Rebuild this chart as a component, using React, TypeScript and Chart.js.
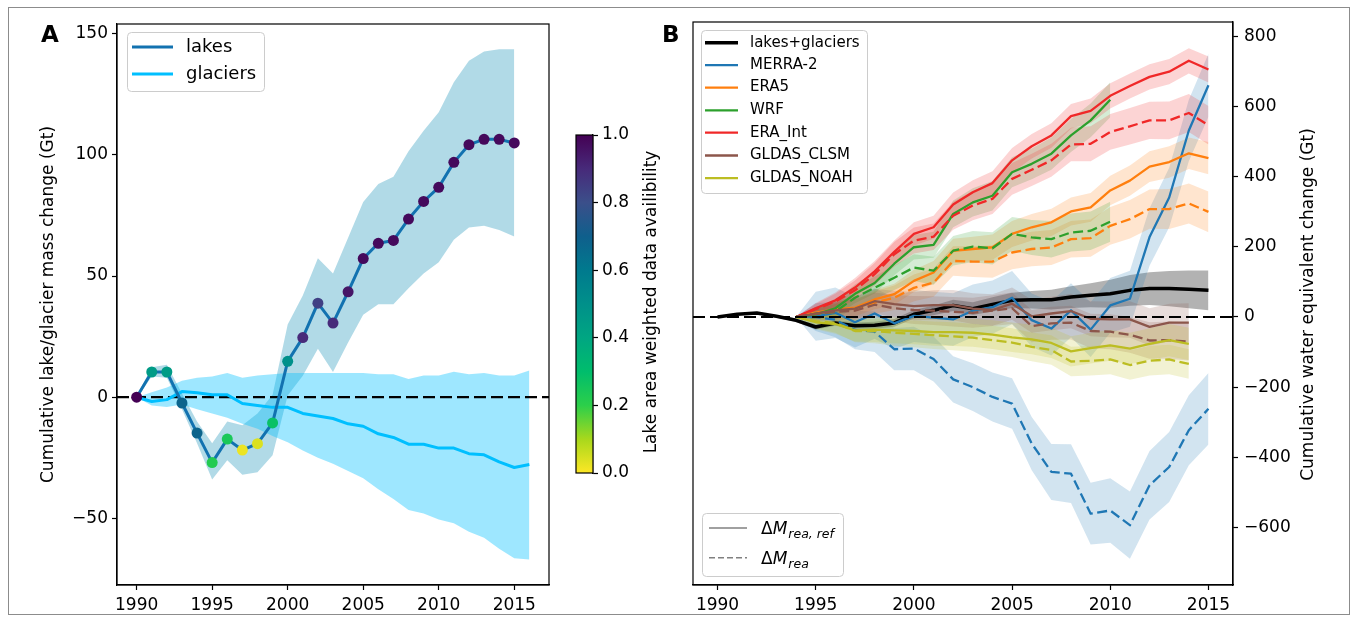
import React, { useEffect, useRef } from 'react';
import { Chart, registerables } from 'chart.js';
Chart.register(...registerables);

const FAMILY = "'DejaVu Sans', sans-serif";

// ---------------- Panel A data ----------------
const YEARS_LAKES = [1990, 1991, 1992, 1993, 1994, 1995, 1996, 1997, 1998, 1999, 2000, 2001, 2002, 2003, 2004, 2005, 2006, 2007, 2008, 2009, 2010, 2011, 2012, 2013, 2014, 2015];
const LAKES = [0, 10.4, 10.4, -2.4, -14.8, -27, -17.3, -21.8, -19.2, -10.6, 14.8, 24.6, 38.8, 30.6, 43.5, 57.2, 63.5, 64.7, 73.5, 80.8, 86.6, 96.9, 104.2, 106.4, 106.4, 104.9];
const LAKES_LOW = [-0.5, 8.5, 8, -5, -19, -34, -26, -32, -31, -24, 0.7, 8.8, 20, 10.4, 22.6, 34, 38.4, 38.4, 45, 51, 55.7, 65, 70, 70.7, 69, 66.3];
const LAKES_HIGH = [0.5, 12.4, 13.4, 1.5, -10, -19, -10, -11.6, -6.7, 1, 30, 42, 57.3, 51, 65.8, 80.5, 88, 91, 101.5, 110, 117.6, 130, 138.8, 142.7, 143.6, 143.6];
const AVAILABILITY = [1.0, 0.45, 0.45, 0.68, 0.68, 0.22, 0.24, 0.02, 0.04, 0.28, 0.5, 0.9, 0.84, 0.9, 0.95, 0.98, 0.98, 0.98, 0.98, 0.98, 0.98, 0.98, 0.98, 0.98, 0.98, 0.98];

const YEARS_GLACIERS = [1990, 1991, 1992, 1993, 1994, 1995, 1996, 1997, 1998, 1999, 2000, 2001, 2002, 2003, 2004, 2005, 2006, 2007, 2008, 2009, 2010, 2011, 2012, 2013, 2014, 2015, 2016];
const GLACIERS = [0, -1.8, -1, 2.3, 1.8, 1, 1, -2.6, -3.4, -4.2, -4.2, -6.7, -7.8, -8.8, -11, -12, -15.1, -16.6, -19.4, -19.4, -21, -21, -23.3, -23.8, -26.7, -29, -27.8];
const GLACIERS_HIGH = [0, 2, 4, 6.8, 8, 8.5, 10, 8, 9, 9.5, 10, 10, 10, 10, 10, 10, 9.5, 9.5, 7.5, 9, 9, 10.5, 9.5, 10, 9, 9, 11];
const GLACIERS_LOW = [0, -3.4, -4, -3, -5, -6.7, -8.5, -11, -13, -16, -18.6, -22, -25, -27.5, -30.5, -33.5, -38, -42, -46.6, -48, -50.5, -52, -55.5, -58, -62.5, -66.5, -67];

const TICKS_YEARS = [1990, 1995, 2000, 2005, 2010, 2015];
const TICKS_A_Y = [-50, 0, 50, 100, 150];
const TICKS_CBAR = [0, 0.2, 0.4, 0.6, 0.8, 1.0];
const TICKS_B_Y = [-600, -400, -200, 0, 200, 400, 600, 800];

// ---------------- Panel B data ----------------
const YEARS_SUM = [1990, 1991, 1992, 1993, 1994, 1995, 1996, 1997, 1998, 1999, 2000, 2001, 2002, 2003, 2004, 2005, 2006, 2007, 2008, 2009, 2010, 2011, 2012, 2013, 2014, 2015];
const LAKES_GLACIERS = [0, 7.6, 11.4, 2, -9.5, -28.5, -17, -24.7, -23.8, -17, 7.6, 19, 33, 23.8, 36, 47.5, 49.5, 49.5, 57, 62, 66.6, 76, 81, 81, 79, 76];
const LAKES_GLACIERS_SPREAD = [0, 2, 3, 4, 5, 7, 8, 9, 10, 11, 12, 14, 16, 18, 20, 22, 25, 28, 31, 34, 40, 44, 47, 50, 54, 57];

const YEARS_REA = [1994, 1995, 1996, 1997, 1998, 1999, 2000, 2001, 2002, 2003, 2004, 2005, 2006, 2007, 2008, 2009, 2010, 2011, 2012, 2013, 2014, 2015];
const YEARS_WRF = [1994, 1995, 1996, 1997, 1998, 1999, 2000, 2001, 2002, 2003, 2004, 2005, 2006, 2007, 2008, 2009, 2010];
const YEARS_GLDAS = [1994, 1995, 1996, 1997, 1998, 1999, 2000, 2001, 2002, 2003, 2004, 2005, 2006, 2007, 2008, 2009, 2010, 2011, 2012, 2013, 2014];

const MERRA_REF = [0, 2, 12, -15, 10, -18, 3, -2, -7, 18, 28, 55, -9, -33, 19, -36, 33, 52, 228, 341, 532, 661];
const MERRA_REF_SPREAD = [0, 70, 72, 72, 72, 73, 74, 74, 75, 75, 76, 76, 76, 77, 77, 78, 78, 80, 82, 85, 88, 90];
const MERRA_REA = [0, 0, -8, -37, -42, -92, -90, -120, -178, -200, -228, -247, -361, -442, -447, -561, -552, -594, -480, -428, -323, -262];
const MERRA_REA_SPREAD = [0, 40, 50, 55, 58, 60, 62, 64, 66, 68, 70, 72, 76, 80, 84, 88, 92, 96, 98, 100, 100, 102];

const ERA5_REF = [0, 12.5, 22, 27, 50, 65, 103, 127, 189, 194, 199, 237, 256, 270, 301, 313, 361, 389, 429, 442, 467, 453];
const ERA5_REF_SPREAD = [0, 15, 20, 25, 28, 30, 32, 33, 34, 35, 36, 37, 38, 39, 40, 41, 42, 43, 44, 45, 45, 46];
const ERA5_REA = [0, 8, 15, 22, 41, 55, 83, 98, 160, 158, 158, 184, 194, 198, 222, 225, 260, 279, 308, 308, 324, 300];
const ERA5_REA_SPREAD = [0, 15, 22, 28, 32, 35, 38, 40, 42, 44, 46, 48, 49, 50, 52, 53, 54, 55, 56, 57, 57, 58];

const WRF_REF = [0, 7.7, 25, 66, 97, 152, 199, 206, 294, 327, 346, 413, 437, 466, 518, 561, 620];
const WRF_REF_SPREAD = [0, 15, 22, 27, 30, 33, 35, 37, 38, 40, 42, 43, 44, 46, 47, 48, 50];
const WRF_REA = [0, 9.5, 15, 55, 83.5, 112, 141, 132, 189, 201, 196, 237, 227, 222, 241, 246, 272];
const WRF_REA_SPREAD = [0, 15, 22, 28, 32, 35, 38, 40, 42, 44, 46, 48, 50, 52, 54, 55, 57];

const ERAINT_REF = [0, 24.8, 47.6, 84, 130, 186, 237, 256, 321, 356, 382, 447, 487, 518, 573, 588, 631, 659, 685, 700, 731, 706];
const ERAINT_REF_SPREAD = [0, 15, 22, 27, 30, 32, 33, 33, 34, 34, 34, 35, 35, 35, 35, 35, 36, 36, 36, 36, 36, 37];
const ERAINT_REA = [0, 22, 44, 76, 122, 179, 218, 229, 289, 318, 337, 394, 420, 447, 492, 494, 528, 544, 561, 561, 582, 547];
const ERAINT_REA_SPREAD = [0, 15, 22, 28, 32, 35, 37, 38, 40, 42, 43, 45, 46, 47, 48, 50, 51, 52, 53, 54, 54, 55];

const CLSM_REF = [0, 9.5, 19, 24, 45, 37, 31, 34, 34, 24, 20, 38, 2, 10, 17, -5, -7, -7, -28, -16, -16];
const CLSM_REF_SPREAD = [0, 20, 28, 32, 35, 38, 40, 42, 43, 44, 45, 46, 47, 48, 49, 50, 51, 52, 53, 54, 55];
const CLSM_REA = [0, 9, 15, 18, 35, 25, 20, 18, 15, 12, 18, 25, -26, -18, -16, -40, -42, -51, -67, -66, -70];
const CLSM_REA_SPREAD = [0, 20, 28, 32, 35, 38, 40, 41, 42, 43, 44, 45, 46, 47, 48, 49, 50, 51, 52, 53, 54];

const NOAH_REF = [0, -15, -20, -38, -36, -38, -40, -43, -43, -45, -50, -58, -64, -74, -98, -89, -81, -90, -77, -66, -77];
const NOAH_REF_SPREAD = [0, 20, 28, 32, 35, 37, 38, 39, 40, 40, 41, 42, 42, 43, 43, 44, 44, 45, 45, 46, 46];
const NOAH_REA = [0, -12, -17, -40, -40, -45, -48, -52, -55, -59, -66, -73, -85, -94, -127, -125, -121, -137, -125, -121, -134];
const NOAH_REA_SPREAD = [0, 20, 28, 32, 35, 37, 38, 39, 40, 40, 41, 41, 41, 42, 42, 42, 42, 42, 42, 42, 42];

const MODELS = [
  { label: 'MERRA-2', rgb: [31, 119, 180], years: YEARS_REA, ref: MERRA_REF, refSpread: MERRA_REF_SPREAD, rea: MERRA_REA, reaSpread: MERRA_REA_SPREAD },
  { label: 'ERA5', rgb: [255, 127, 14], years: YEARS_REA, ref: ERA5_REF, refSpread: ERA5_REF_SPREAD, rea: ERA5_REA, reaSpread: ERA5_REA_SPREAD },
  { label: 'WRF', rgb: [44, 160, 44], years: YEARS_WRF, ref: WRF_REF, refSpread: WRF_REF_SPREAD, rea: WRF_REA, reaSpread: WRF_REA_SPREAD },
  { label: 'ERA_Int', rgb: [240, 40, 40], years: YEARS_REA, ref: ERAINT_REF, refSpread: ERAINT_REF_SPREAD, rea: ERAINT_REA, reaSpread: ERAINT_REA_SPREAD },
  { label: 'GLDAS_CLSM', rgb: [140, 86, 75], years: YEARS_GLDAS, ref: CLSM_REF, refSpread: CLSM_REF_SPREAD, rea: CLSM_REA, reaSpread: CLSM_REA_SPREAD },
  { label: 'GLDAS_NOAH', rgb: [188, 189, 34], years: YEARS_GLDAS, ref: NOAH_REF, refSpread: NOAH_REF_SPREAD, rea: NOAH_REA, reaSpread: NOAH_REA_SPREAD },
];

// ---------------- Styles ----------------
const LAKES_COLOR = '#1272b0';
const GLACIER_COLOR = '#00bfff';
const CMAP = ['#fde725', '#a8d81c', '#2ccf4a', '#00bd6c', '#00a682', '#00908a', '#007a8e', '#0f5f8c', '#3b4f8a', '#472a7a', '#440154'];

function hexToRgb(h: string) {
  const n = parseInt(h.slice(1), 16);
  return [(n >> 16) & 255, (n >> 8) & 255, n & 255];
}
function cmap(v: number) {
  const t = Math.max(0, Math.min(1, v)) * (CMAP.length - 1);
  const i = Math.min(Math.floor(t), CMAP.length - 2);
  const f = t - i;
  const a = hexToRgb(CMAP[i]);
  const b = hexToRgb(CMAP[i + 1]);
  const c = a.map((x, k) => Math.round(x + (b[k] - x) * f));
  return `rgb(${c[0]},${c[1]},${c[2]})`;
}
const rgba = (c: number[], a: number) => `rgba(${c[0]},${c[1]},${c[2]},${a})`;
const pts = (xs: number[], ys: number[]) => xs.map((x, i) => ({ x, y: ys[i] }));
const shift = (ys: number[], sp: number[], s: number) => ys.map((y, i) => y + s * sp[i]);
const fmtTick = (v: any) => (Number(v) < 0 ? '\u2212' + Math.abs(Number(v)) : String(v));
const fixedTicks = (list: number[]) => (s: any) => { s.ticks = list.map((value) => ({ value })); };

function bandPair(xs: number[], lo: number[], hi: number[], color: string) {
  return [
    { data: pts(xs, lo), borderWidth: 0, pointRadius: 0, fill: false, borderColor: 'rgba(0,0,0,0)' },
    { data: pts(xs, hi), borderWidth: 0, pointRadius: 0, fill: '-1', backgroundColor: color, borderColor: 'rgba(0,0,0,0)' },
  ];
}
function lineDs(xs: number[], ys: number[], color: string, width: number, dash: number[] = []) {
  return { data: pts(xs, ys), borderColor: color, borderWidth: width, borderDash: dash, pointRadius: 0, fill: false, borderJoinStyle: 'round', tension: 0 };
}
function setOrder(list: any[]) {
  list.forEach((d, i) => { d.order = list.length - i; });
  return list;
}

function axisCommon(size = 17) {
  return {
    grid: { drawOnChartArea: false, drawTicks: true, tickLength: 5, color: '#000', tickWidth: 1.2 },
    border: { display: true, color: '#000', width: 1.2 },
    ticks: { color: '#000', font: { family: FAMILY, size }, autoSkip: false, maxRotation: 0 },
  };
}

function drawFrame(chart: any) {
  const { ctx, chartArea: a } = chart;
  ctx.save();
  ctx.strokeStyle = '#000';
  ctx.lineWidth = 1.2;
  ctx.strokeRect(a.left, a.top, a.right - a.left, a.bottom - a.top);
  ctx.restore();
}
function drawZero(chart: any) {
  const { ctx, chartArea: a } = chart;
  const y = chart.scales.y.getPixelForValue(0);
  ctx.save();
  ctx.beginPath();
  ctx.rect(a.left, a.top, a.right - a.left, a.bottom - a.top);
  ctx.clip();
  ctx.beginPath();
  ctx.setLineDash([12, 5]);
  ctx.lineWidth = 2.2;
  ctx.strokeStyle = '#000';
  ctx.moveTo(a.left, y);
  ctx.lineTo(a.right, y);
  ctx.stroke();
  ctx.restore();
}
function legendBox(ctx: CanvasRenderingContext2D, x0: number, y0: number, x1: number, y1: number) {
  ctx.save();
  ctx.beginPath();
  (ctx as any).roundRect(x0 + 0.5, y0 + 0.5, x1 - x0, y1 - y0, 4);
  ctx.fillStyle = 'rgba(255,255,255,0.85)';
  ctx.fill();
  ctx.strokeStyle = '#cccccc';
  ctx.lineWidth = 1;
  ctx.stroke();
  ctx.restore();
}
function swatch(ctx: CanvasRenderingContext2D, x0: number, x1: number, y: number, color: string, w: number, dash: number[] = []) {
  ctx.save();
  ctx.beginPath();
  ctx.setLineDash(dash);
  ctx.strokeStyle = color;
  ctx.lineWidth = w;
  ctx.moveTo(x0, y);
  ctx.lineTo(x1, y);
  ctx.stroke();
  ctx.restore();
}
function vText(ctx: CanvasRenderingContext2D, text: string, x: number, y: number, size: number) {
  ctx.save();
  ctx.translate(x, y);
  ctx.rotate(-Math.PI / 2);
  ctx.font = `${size}px ${FAMILY}`;
  ctx.fillStyle = '#000';
  ctx.textAlign = 'center';
  ctx.textBaseline = 'middle';
  ctx.fillText(text, 0, 0);
  ctx.restore();
}

// ---------------- Panel A ----------------
function configA(): any {
  const datasets: any[] = [
    ...bandPair(YEARS_LAKES, LAKES_LOW, LAKES_HIGH, 'rgba(173,216,230,0.95)'),
    ...bandPair(YEARS_GLACIERS, GLACIERS_LOW, GLACIERS_HIGH, 'rgba(0,191,255,0.38)'),
    lineDs(YEARS_GLACIERS, GLACIERS, GLACIER_COLOR, 3),
    {
      ...lineDs(YEARS_LAKES, LAKES, LAKES_COLOR, 3),
      pointRadius: 5.5,
      pointBorderWidth: 0,
      pointBackgroundColor: AVAILABILITY.map(cmap),
      pointBorderColor: AVAILABILITY.map(cmap),
    },
  ];
  setOrder(datasets);
  const common = axisCommon(17);
  return {
    type: 'line',
    data: { datasets },
    options: {
      animation: false, responsive: false, devicePixelRatio: 1,
      layout: { padding: { left: 0, top: 24, right: 1356 - 549, bottom: 0 } },
      plugins: { legend: { display: false }, tooltip: { enabled: false } },
      scales: {
        x: {
          type: 'linear', min: 1988.7, max: 2017.3, ...common,
          afterFit: (s: any) => { s.height = 36; },
          afterBuildTicks: fixedTicks(TICKS_YEARS),
          ticks: { ...common.ticks, padding: 5, callback: (v: any) => String(v) },
        },
        y: {
          type: 'linear', min: -77.5, max: 154, ...common,
          afterFit: (s: any) => { s.width = 117; },
          afterBuildTicks: fixedTicks(TICKS_A_Y),
          ticks: { ...common.ticks, padding: 4, callback: fmtTick },
        },
      },
    },
    plugins: [{
      id: 'panelA',
      afterDatasetDraw(chart: any, args: any) { if (args.index === 3) drawZero(chart); },
      afterDraw(chart: any) {
        const ctx = chart.ctx;
        drawFrame(chart);
        ctx.save();
        ctx.font = `bold 23px ${FAMILY}`;
        ctx.fillStyle = '#000';
        ctx.textBaseline = 'alphabetic';
        ctx.fillText('A', 41, 42);
        ctx.restore();
        vText(ctx, 'Cumulative lake/glacier mass change (Gt)', 48.5, 304.5, 17);
        legendBox(ctx, 127, 32, 264, 91);
        swatch(ctx, 132, 173, 47, LAKES_COLOR, 3);
        swatch(ctx, 132, 173, 74, GLACIER_COLOR, 3);
        ctx.save();
        ctx.font = `18px ${FAMILY}`;
        ctx.fillStyle = '#000';
        ctx.textBaseline = 'middle';
        ctx.fillText('lakes', 186, 47);
        ctx.fillText('glaciers', 186, 74);
        ctx.restore();
      },
    }],
  };
}

// ---------------- Colorbar ----------------
function configC(): any {
  const common = axisCommon(17);
  return {
    type: 'line',
    data: { datasets: [] },
    options: {
      animation: false, responsive: false, devicePixelRatio: 1,
      layout: { padding: { left: 576, right: 1356 - 593 - 50, top: 135, bottom: 621 - 473 } },
      plugins: { legend: { display: false }, tooltip: { enabled: false } },
      scales: {
        x: { type: 'linear', display: false, min: 0, max: 1 },
        y: {
          type: 'linear', position: 'right', min: 0, max: 1, ...common,
          afterFit: (s: any) => { s.width = 50; },
          afterBuildTicks: fixedTicks(TICKS_CBAR),
          ticks: { ...common.ticks, padding: 4, callback: (v: any) => Number(v).toFixed(1) },
        },
      },
    },
    plugins: [{
      id: 'cbar',
      beforeDatasetsDraw(chart: any) {
        const { ctx, chartArea: a } = chart;
        const g = ctx.createLinearGradient(0, a.bottom, 0, a.top);
        CMAP.forEach((c, k) => g.addColorStop(k / (CMAP.length - 1), c));
        ctx.save();
        ctx.fillStyle = g;
        ctx.fillRect(a.left, a.top, a.right - a.left, a.bottom - a.top);
        ctx.restore();
      },
      afterDraw(chart: any) {
        drawFrame(chart);
        vText(chart.ctx, 'Lake area weighted data availibility', 652, 302, 17);
      },
    }],
  };
}

// ---------------- Panel B ----------------
function configB(): any {
  const bands: any[] = [...bandPair(YEARS_SUM, shift(LAKES_GLACIERS, LAKES_GLACIERS_SPREAD, -1), shift(LAKES_GLACIERS, LAKES_GLACIERS_SPREAD, 1), 'rgba(0,0,0,0.3)')];
  MODELS.forEach((m) => {
    bands.push(...bandPair(m.years, shift(m.ref, m.refSpread, -1), shift(m.ref, m.refSpread, 1), rgba(m.rgb, 0.2)));
    bands.push(...bandPair(m.years, shift(m.rea, m.reaSpread, -1), shift(m.rea, m.reaSpread, 1), rgba(m.rgb, 0.2)));
  });
  const lines: any[] = [lineDs(YEARS_SUM, LAKES_GLACIERS, '#000', 3.5)];
  MODELS.forEach((m) => {
    lines.push(lineDs(m.years, m.ref, rgba(m.rgb, 1), 2.3));
    lines.push(lineDs(m.years, m.rea, rgba(m.rgb, 1), 2.3, [10, 4.5]));
  });
  const datasets = setOrder([...bands, ...lines]);
  const common = axisCommon(17);
  return {
    type: 'line',
    data: { datasets },
    options: {
      animation: false, responsive: false, devicePixelRatio: 1,
      layout: { padding: { left: 693, top: 22, right: 0, bottom: 0 } },
      plugins: { legend: { display: false }, tooltip: { enabled: false } },
      scales: {
        x: {
          type: 'linear', min: 1988.75, max: 2016.25, ...common,
          afterFit: (s: any) => { s.height = 36; },
          afterBuildTicks: fixedTicks(TICKS_YEARS),
          ticks: { ...common.ticks, padding: 5, callback: (v: any) => String(v) },
        },
        y: {
          type: 'linear', position: 'right', min: -764.6, max: 841.6, ...common,
          afterFit: (s: any) => { s.width = 123; },
          afterBuildTicks: fixedTicks(TICKS_B_Y),
          ticks: { ...common.ticks, padding: 6, callback: fmtTick },
        },
      },
    },
    plugins: [{
      id: 'panelB',
      afterDatasetsDraw(chart: any) { drawZero(chart); },
      afterDraw(chart: any) {
        const ctx = chart.ctx;
        drawFrame(chart);
        ctx.save();
        ctx.font = `bold 23px ${FAMILY}`;
        ctx.fillStyle = '#000';
        ctx.fillText('B', 662, 42);
        ctx.restore();
        vText(ctx, 'Cumulative water equivalent change (Gt)', 1308.5, 304.5, 17);
        // model legend
        legendBox(ctx, 701, 30, 867, 193);
        const rows = [42.7, 65.2, 87.6, 110.3, 132.7, 155.5, 178.2];
        const labels = ['lakes+glaciers', ...MODELS.map((m) => m.label)];
        const colors = ['#000', ...MODELS.map((m) => rgba(m.rgb, 1))];
        ctx.save();
        ctx.font = `15px ${FAMILY}`;
        ctx.fillStyle = '#000';
        ctx.textBaseline = 'middle';
        rows.forEach((y, i) => {
          swatch(ctx, 705, 738, y, colors[i], i === 0 ? 3.5 : 2.3);
          ctx.fillText(labels[i], 750, y);
        });
        ctx.restore();
        // line style legend
        legendBox(ctx, 702, 513, 843, 576);
        swatch(ctx, 709, 747, 528, '#808080', 1.5);
        swatch(ctx, 709, 747, 557.7, '#808080', 1.5, [6, 3]);
        const math = (y: number, sub: string) => {
          ctx.save();
          ctx.fillStyle = '#000';
          ctx.textBaseline = 'alphabetic';
          ctx.font = `17px ${FAMILY}`;
          ctx.fillText('\u0394', 761, y);
          let x = 761 + ctx.measureText('\u0394').width;
          ctx.font = `italic 17px ${FAMILY}`;
          ctx.fillText('M', x, y);
          x += ctx.measureText('M').width + 1;
          ctx.font = `italic 12.5px ${FAMILY}`;
          ctx.fillText(sub, x, y + 3.5);
          ctx.restore();
        };
        math(534, 'rea, ref');
        math(564, 'rea');
      },
    }],
  };
}

export default function App() {
  const refA = useRef<HTMLCanvasElement>(null);
  const refB = useRef<HTMLCanvasElement>(null);
  const refC = useRef<HTMLCanvasElement>(null);
  useEffect(() => {
    const charts = [
      new Chart(refA.current as HTMLCanvasElement, configA()),
      new Chart(refC.current as HTMLCanvasElement, configC()),
      new Chart(refB.current as HTMLCanvasElement, configB()),
    ];
    return () => charts.forEach((c) => c.destroy());
  }, []);
  const cs: React.CSSProperties = { position: 'absolute', left: 0, top: 0, width: 1356, height: 621 };
  return (
    <div style={{ position: 'fixed', left: 0, top: 0, width: 1356, height: 621, background: '#fff', overflow: 'hidden' }}>
      <div style={{ position: 'absolute', left: 8, top: 7, width: 1342, height: 608, border: '1px solid #8c8c8c', boxSizing: 'border-box' }} />
      <canvas ref={refA} width={1356} height={621} style={cs} />
      <canvas ref={refC} width={1356} height={621} style={cs} />
      <canvas ref={refB} width={1356} height={621} style={cs} />
    </div>
  );
}
